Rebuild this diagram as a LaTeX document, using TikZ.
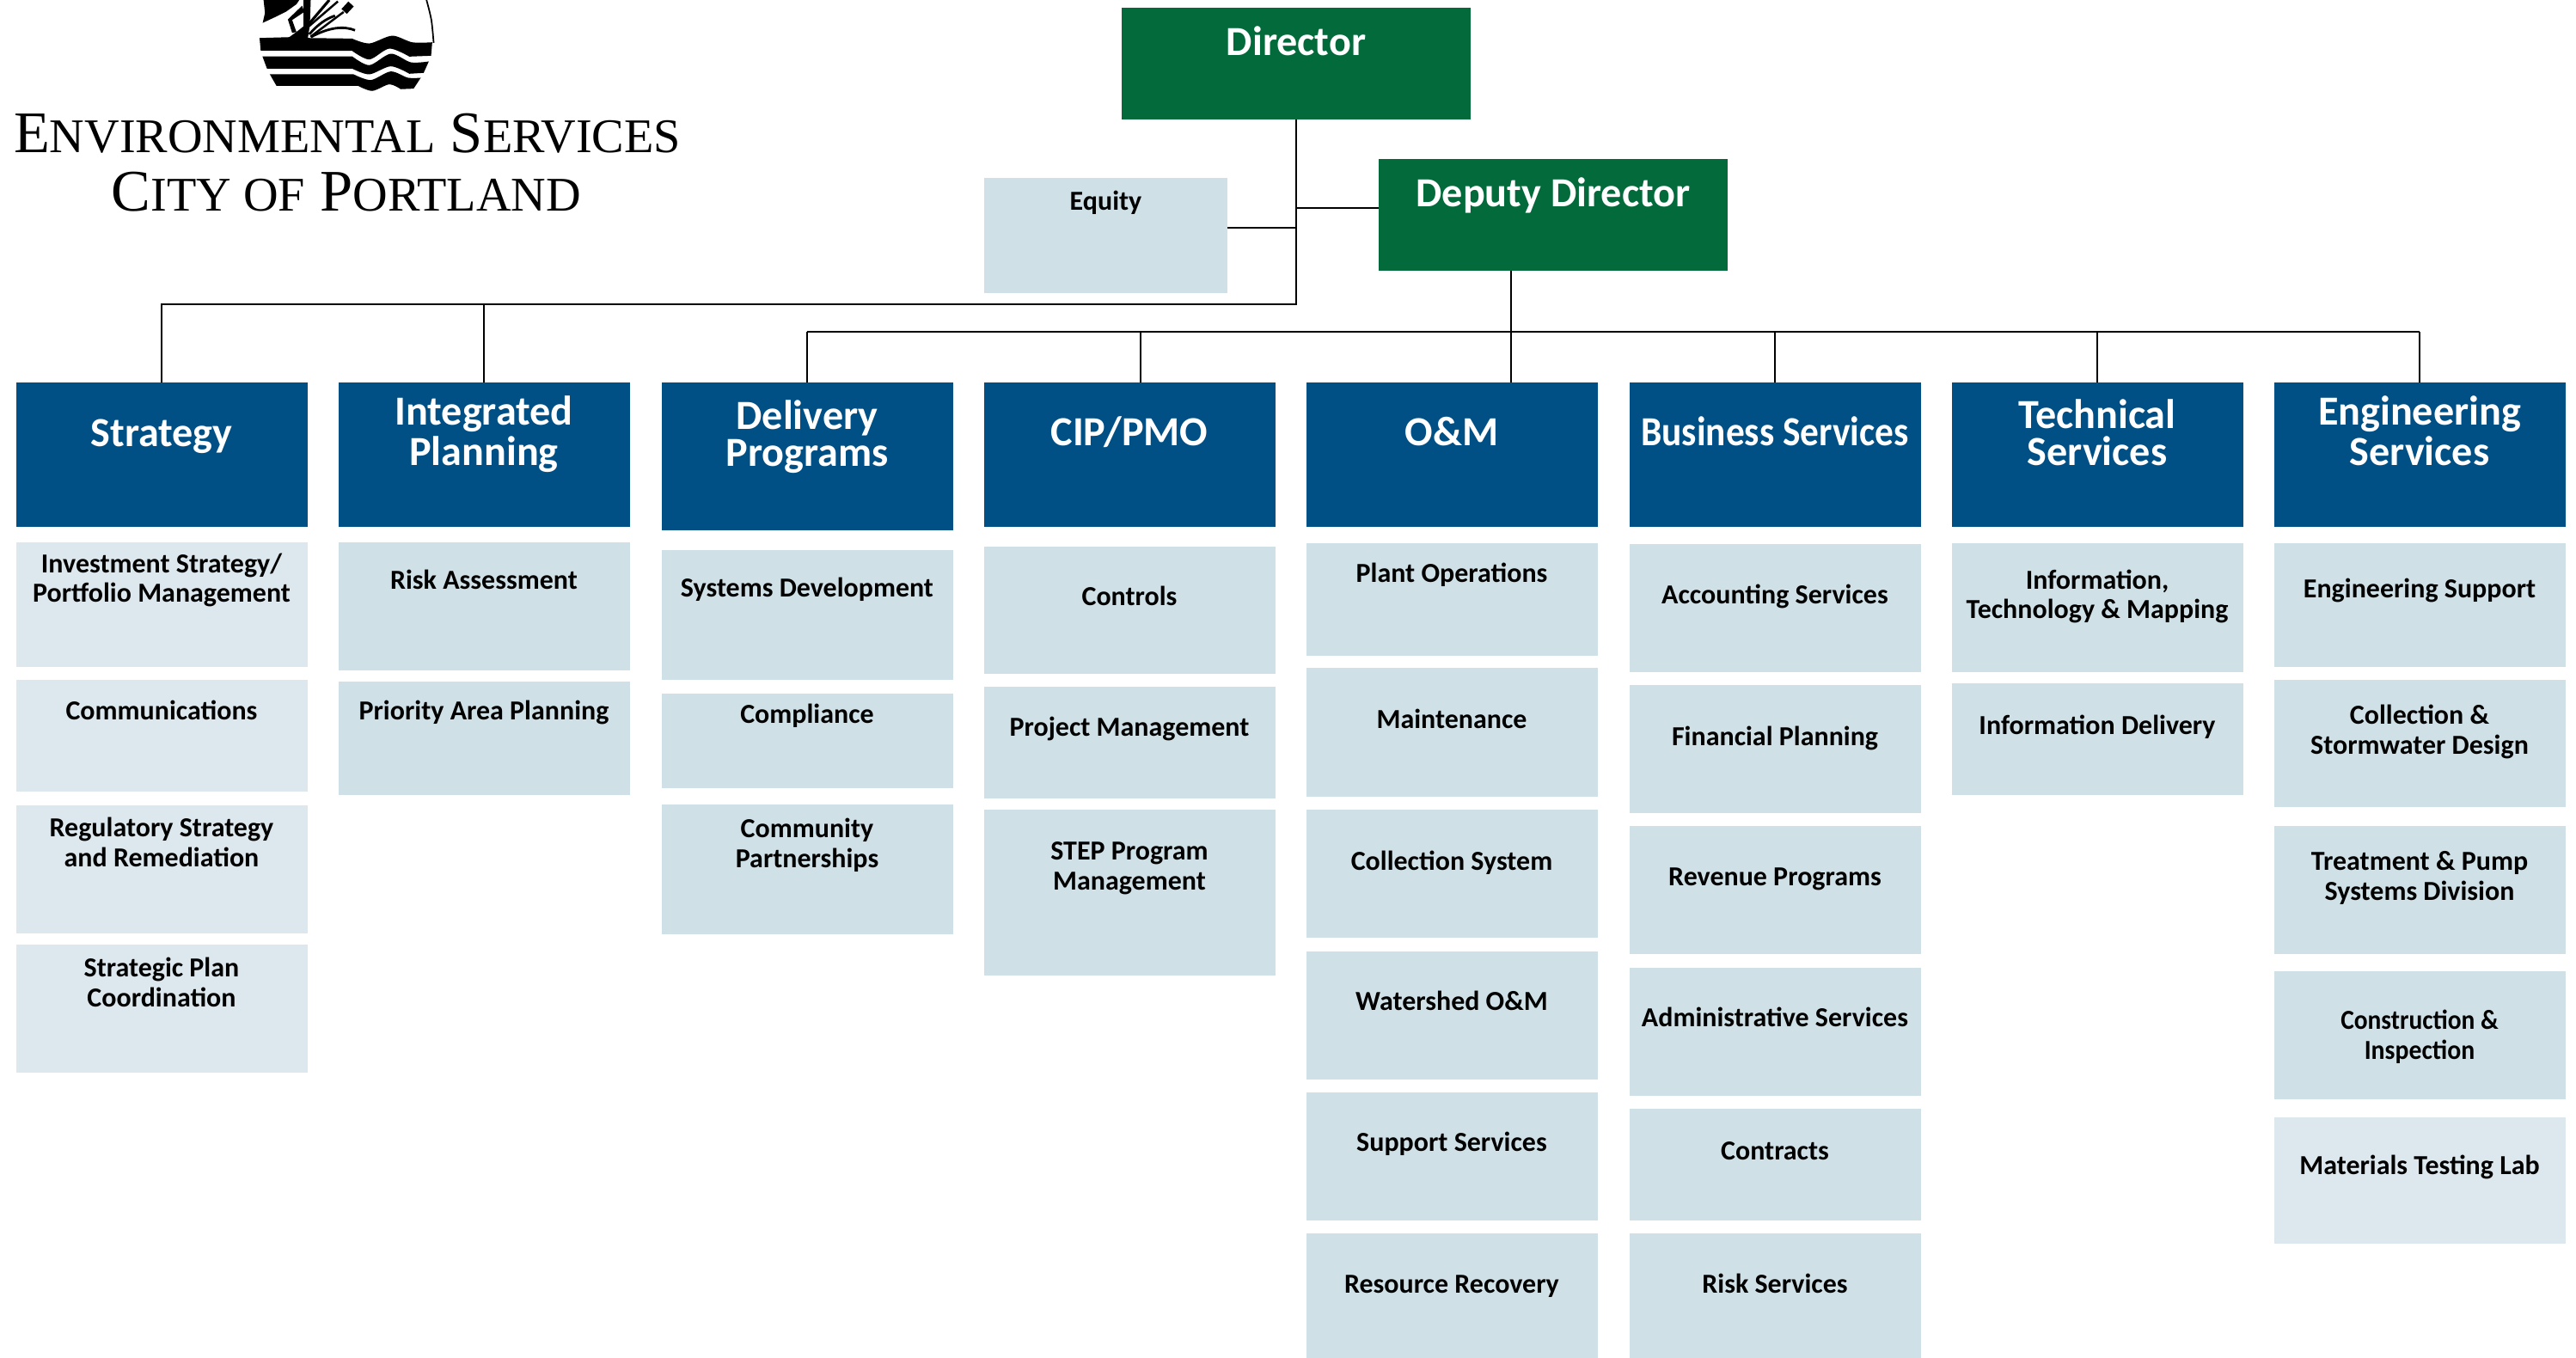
\documentclass[tikz,border=0pt]{standalone}
\usepackage{fontspec}
\newfontfamily\bodyfont{Carlito}
\newfontfamily\logofont{Liberation Serif}
\definecolor{headblue}{HTML}{005086}
\definecolor{leadgreen}{HTML}{036B3B}
\definecolor{unitpale}{HTML}{CFE0E7}
\definecolor{unitpaler}{HTML}{DDE8EE}
\newcommand{\logobig}[1]{{\fontsize{19.5pt}{20pt}\selectfont #1}}
\newcommand{\logosmall}[1]{{\fontsize{16pt}{20pt}\selectfont #1}}
\tikzset{
  leadbox/.style 2 args={fill=leadgreen,text=white,anchor=north,inner sep=0pt,outer sep=0pt,minimum width=4.06cm,
    font=\bodyfont\bfseries\fontsize{13.7pt}{13.4pt}\selectfont,align=center,text height=#1+.02cm,text depth=#2-.02cm},
  headbox/.style 2 args={fill=headblue,text=white,anchor=north,inner sep=0pt,outer sep=0pt,minimum width=3.39cm,
    font=\bodyfont\bfseries\fontsize{13.7pt}{13.4pt}\selectfont,align=center,text height=#1+.02cm,text depth=#2-.02cm},
  unitbox/.style 2 args={fill=unitpale,anchor=north,inner sep=0pt,outer sep=0pt,minimum width=3.39cm,
    font=\bodyfont\bfseries\fontsize{9.1pt}{9.95pt}\selectfont,align=center,text height=#1+.02cm,text depth=#2-.02cm},
  link/.style={black,line width=0.6pt},
  emblem/.style={shift={(2.9,0)},x=0.003333cm,y=-0.003333cm}
}
\begin{document}
\begin{tikzpicture}
\useasboundingbox (0,-15.8) rectangle (29.97,0);
% logo
\begin{scope}[emblem]
\draw [black,line width=0.5pt] plot [smooth] coordinates {(620,0) (637,70) (645,150)};
\fill (36,133) -- (140,130) -- (170,108) -- (190,92) -- (190,0) -- (215,0) -- (212,88) -- (205,133) -- plot [smooth] coordinates {(360,135) (420,152) (500,125) (570,148) (640,148)} -- (636,195) -- plot [smooth] coordinates {(560,198) (490,170) (420,208) (360,178)} -- (40,177) -- cycle;
\fill (46,197) -- plot [smooth] coordinates {(360,197) (420,228) (495,188) (565,218) (628,215)} -- (610,255) -- plot [smooth] coordinates {(560,258) (495,232) (420,260) (360,240)} -- (62,240) -- cycle;
\fill (72,260) -- plot [smooth] coordinates {(365,260) (425,280) (495,250) (555,272) (600,272)} -- (575,310) -- plot [smooth] coordinates {(530,312) (490,295) (430,318) (380,300)} -- (95,300) -- cycle;
\fill (50,0) -- (55,45) -- (47,80) -- (90,60) -- (130,40) -- (165,15) -- (175,0) -- cycle;
\fill (185,20) -- (135,68) -- (150,115) -- (165,112) -- (150,70) -- (192,42) -- cycle;
\draw [line width=0.9pt] (195,100) -- (280,0);
\draw [line width=0.7pt] (205,95) -- (310,5);
\draw [line width=0.7pt] (215,128) -- (330,42);
\draw [line width=2.4pt] (332,40) -- (356,14);
\draw [line width=0.8pt] (215,130) .. controls (280,95) and (330,90) .. (370,106);
\draw [line width=0.8pt] (210,120) .. controls (240,85) and (270,65) .. (300,55);
\end{scope}
\node (logoname) [anchor=base,font=\logofont] at (4.04,-1.78) {\logobig{E}\logosmall{NVIRONMENTAL}\hspace{.5em}\logobig{S}\logosmall{ERVICES}};
\node (logocity) [anchor=base,font=\logofont] at (4.03,-2.46) {\logobig{C}\logosmall{ITY OF}\hspace{.5em}\logobig{P}\logosmall{ORTLAND}};
% leadership
\node (director) [leadbox={.54cm}{.76cm}] at (15.08,-.09) {Director};
\node (deputy) [leadbox={.54cm}{.76cm}] at (18.07,-1.85) {Deputy Director};
\node (equity) [unitbox={.36cm}{.98cm},minimum width=2.83cm] at (12.865,-2.07) {Equity};
% department heads
\node (strategy) [headbox={.73cm}{.95cm}] at (1.88,-4.45) {Strategy};
\node (integrated) [headbox={.95cm}{.73cm}] at (5.63,-4.45) {Integrated\\Planning};
\node (delivery) [headbox={.96cm}{.76cm}] at (9.39,-4.45) {Delivery\\[-1pt]Programs};
\node (cippmo) [headbox={.72cm}{.96cm}] at (13.14,-4.45) {CIP/PMO};
\node (om) [headbox={.72cm}{.96cm}] at (16.89,-4.45) {O\&M};
\node (business) [headbox={.72cm}{.96cm}] at (20.65,-4.45) {\scalebox{.9}[1]{Business Services}};
\node (technical) [headbox={.95cm}{.73cm}] at (24.40,-4.45) {Technical\\[-1pt]Services};
\node (engineering) [headbox={.95cm}{.73cm}] at (28.15,-4.45) {Engineering\\Services};
% strategy units
\node (invest) [unitbox={.68cm}{.77cm},fill=unitpaler] at (1.88,-6.31) {Investment Strategy/\\Portfolio Management};
\node (comms) [unitbox={.44cm}{.86cm},fill=unitpaler] at (1.88,-7.91) {Communications};
\node (regstrat) [unitbox={.69cm}{.80cm},fill=unitpaler] at (1.88,-9.37) {Regulatory Strategy\\and Remediation};
\node (stratplan) [unitbox={.70cm}{.79cm},fill=unitpaler] at (1.88,-10.99) {Strategic Plan\\Coordination};
% planning units
\node (riskassess) [unitbox={.53cm}{.96cm}] at (5.63,-6.31) {Risk Assessment};
\node (priority) [unitbox={.43cm}{.89cm}] at (5.63,-7.93) {Priority Area Planning};
% delivery units
\node (sysdev) [unitbox={.53cm}{.98cm}] at (9.39,-6.40) {Systems Development};
\node (compliance) [unitbox={.33cm}{.77cm}] at (9.39,-8.07) {Compliance};
\node (community) [unitbox={.71cm}{.80cm}] at (9.39,-9.36) {Community\\Partnerships};
% cip units
\node (controls) [unitbox={.67cm}{.81cm}] at (13.14,-6.36) {Controls};
\node (projmgmt) [unitbox={.56cm}{.74cm}] at (13.14,-7.99) {Project Management};
\node (stepprog) [unitbox={.91cm}{1.02cm}] at (13.14,-9.42) {STEP Program\\Management};
% o&m units
\node (plantops) [unitbox={.44cm}{.87cm}] at (16.89,-6.32) {Plant Operations};
\node (maintain) [unitbox={.69cm}{.81cm}] at (16.89,-7.77) {Maintenance};
\node (collsys) [unitbox={.68cm}{.81cm}] at (16.89,-9.42) {Collection System};
\node (watershed) [unitbox={.66cm}{.83cm}] at (16.89,-11.07) {Watershed O\&M};
\node (support) [unitbox={.66cm}{.83cm}] at (16.89,-12.71) {Support Services};
\node (recovery) [unitbox={.67cm}{.78cm}] at (16.89,-14.35) {Resource Recovery};
% business units
\node (account) [unitbox={.68cm}{.81cm}] at (20.65,-6.33) {Accounting Services};
\node (finplan) [unitbox={.68cm}{.81cm}] at (20.65,-7.97) {Financial Planning};
\node (revenue) [unitbox={.67cm}{.82cm}] at (20.65,-9.61) {Revenue Programs};
\node (admin) [unitbox={.66cm}{.83cm}] at (20.65,-11.26) {Administrative Services};
\node (contracts) [unitbox={.57cm}{.73cm}] at (20.65,-12.90) {Contracts};
\node (riskserv) [unitbox={.67cm}{.78cm}] at (20.65,-14.35) {Risk Services};
% technical units
\node (infotech) [unitbox={.86cm}{.64cm}] at (24.40,-6.32) {Information,\\Technology \& Mapping};
\node (infodel) [unitbox={.57cm}{.73cm}] at (24.40,-7.95) {Information Delivery};
% engineering units
\node (engsup) [unitbox={.62cm}{.82cm}] at (28.15,-6.32) {Engineering Support};
\node (colldes) [unitbox={.84cm}{.64cm}] at (28.15,-7.91) {Collection \&\\Stormwater Design};
\node (treatpump) [unitbox={.84cm}{.65cm}] at (28.15,-9.61) {Treatment \& Pump\\Systems Division};
\node (construct) [unitbox={1.00cm}{.49cm}] at (28.15,-11.30) {\scalebox{.92}[1]{Construction \&}\\\scalebox{.93}[1]{Inspection}};
\node (material) [unitbox={.64cm}{.83cm},fill=unitpaler] at (28.15,-13.00) {Materials Testing Lab};
% connectors
\coordinate (leftbar) at (15.08,-3.54);
\coordinate (rightbar) at (17.58,-3.86);
\coordinate (equitytap) at (15.08,-2.65);
\coordinate (deputytap) at (15.08,-2.42);
\coordinate (cipdrop) at (13.27,-4.45);
\draw [link] (director.south) -- (leftbar) -| (strategy.north);
\draw [link] (leftbar) -| (integrated.north);
\draw [link] (equitytap) -- (equity.east |- equitytap);
\draw [link] (deputytap) -- (deputy.west |- deputytap);
\draw [link] (deputy.south -| rightbar) -- (rightbar) -- (om.north -| rightbar);
\draw [link] (delivery.north |- rightbar) -- (engineering.north |- rightbar);
\foreach \dept in {delivery,business,technical,engineering}
  \draw [link] (\dept.north |- rightbar) -- (\dept.north);
\draw [link] (cipdrop |- rightbar) -- (cipdrop);
\end{tikzpicture}
\end{document}
